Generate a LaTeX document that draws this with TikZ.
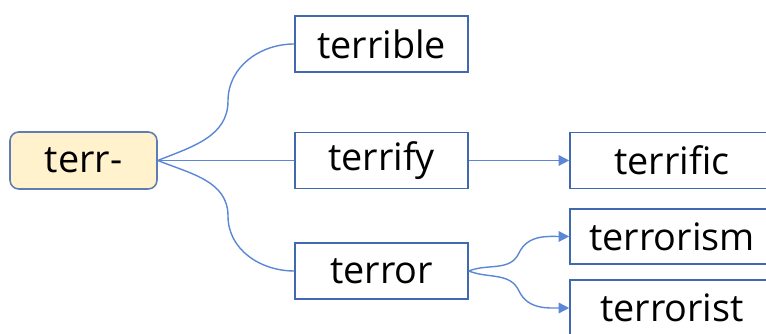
\documentclass[tikz,border=0pt]{standalone}
\usepackage{fontspec}
\setmainfont{Open Sans}
\usetikzlibrary{positioning,arrows.meta}
\definecolor{boxBlue}{HTML}{4169B0}
\definecolor{lineBlue}{HTML}{5B87D6}
\definecolor{rootLine}{HTML}{5E7DB3}
\definecolor{rootFill}{HTML}{FFF2CC}
\tikzset{
    rootcard/.style={draw=rootLine,fill=rootFill,rounded corners=5pt,line width=0.9pt,
        minimum width=2.94cm,minimum height=1.14cm,align=center,
        font=\fontsize{21.5}{26}\selectfont},
    wordbox/.style={draw=boxBlue,fill=white,line width=0.9pt,
        minimum width=3.46cm,minimum height=1.12cm,align=center,
        font=\fontsize{21.5}{26}\selectfont},
    widebox/.style={wordbox,minimum width=4.08cm},
    branch/.style={draw=lineBlue,line width=0.8pt},
    arrow/.style={-{Triangle[length=6pt,width=6pt]},draw=lineBlue,line width=0.8pt}
}
\begin{document}
\begin{tikzpicture}
    \useasboundingbox (0,0) rectangle (15.32,6.68);
    \clip (0,0) rectangle (15.32,6.68);

    \node[rootcard] (root) at (1.67,3.47) {terr-};

    \node[wordbox] (terrible) at (7.63,5.80) {terrible};
    \node[wordbox] (terrify) at (7.63,3.47) {terrify};
    \node[wordbox] (terror) at (7.63,1.26) {terror};

    \node[widebox] (terrific) at (13.44,3.47) {terrific};
    \node[widebox,minimum height=1.10cm] (terrorism) at (13.44,1.95) {terrorism};
    \node[widebox] (terrorist) at (13.44,0.52) {terrorist};

    % mid points of the curved branches
    \coordinate (midUp) at (4.56,4.66);
    \coordinate (midDown) at (4.56,2.36);
    \coordinate (midIsm) at (10.38,1.62);
    \coordinate (midIst) at (10.38,0.86);

    \draw[branch] (root.east) to[out=22,in=270] (midUp) to[out=90,in=180] (terrible.west);
    \draw[branch] (root.east) -- (terrify.west);
    \draw[branch] (root.east) to[out=-22,in=90] (midDown) to[out=-90,in=180] (terror.west);

    \draw[arrow] (terrify.east) -- (terrific.west);
    \draw[arrow] (terror.east) to[out=22,in=245] (midIsm) to[out=65,in=180] (terrorism.west);
    \draw[arrow] (terror.east) to[out=-22,in=115] (midIst) to[out=-65,in=180] (terrorist.west);
\end{tikzpicture}
\end{document}
